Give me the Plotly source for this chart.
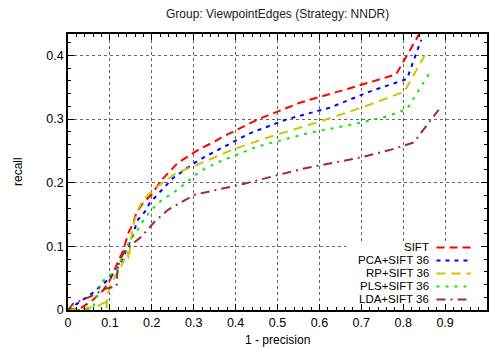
import plotly.graph_objects as go

# Recall vs (1 - precision) curves, one per descriptor
sift_x = [0, 0.033, 0.06, 0.084, 0.1, 0.12, 0.132, 0.144, 0.154, 0.163, 0.179, 0.199, 0.223, 0.262, 0.312, 0.351, 0.369, 0.452, 0.555, 0.671, 0.783, 0.85]
sift_y = [0, 0.004, 0.016, 0.031, 0.047, 0.076, 0.094, 0.121, 0.134, 0.152, 0.168, 0.181, 0.204, 0.231, 0.252, 0.265, 0.272, 0.299, 0.326, 0.348, 0.370, 0.447]

pca_x = [0, 0.029, 0.057, 0.1, 0.124, 0.148, 0.167, 0.183, 0.195, 0.25, 0.302, 0.325, 0.365, 0.432, 0.520, 0.626, 0.720, 0.809, 0.843]
pca_y = [0, 0.013, 0.026, 0.050, 0.071, 0.107, 0.142, 0.154, 0.168, 0.207, 0.231, 0.240, 0.254, 0.277, 0.299, 0.318, 0.343, 0.363, 0.4245]

rp_x = [0, 0.04, 0.07, 0.088, 0.092, 0.094, 0.11, 0.128, 0.142, 0.145, 0.150, 0.159, 0.167, 0.179, 0.207, 0.258, 0.3175, 0.392, 0.479, 0.594, 0.7045, 0.803, 0.852]
rp_y = [0, 0.002, 0.006, 0.012, 0.002, 0.025, 0.05, 0.07, 0.092, 0.079, 0.11, 0.1415, 0.157, 0.173, 0.191, 0.215, 0.2307, 0.2516, 0.2715, 0.2945, 0.3187, 0.343, 0.401]

pls_x = [0, 0.04, 0.06, 0.065, 0.081, 0.096, 0.116, 0.128, 0.148, 0.159, 0.175, 0.199, 0.219, 0.266, 0.3095, 0.329, 0.365, 0.452, 0.574, 0.7005, 0.76, 0.809, 0.8626]
pls_y = [0, 0.0, 0.003, 0.016, 0.045, 0.052, 0.063, 0.081, 0.110, 0.118, 0.136, 0.157, 0.170, 0.191, 0.215, 0.2228, 0.234, 0.2568, 0.2778, 0.2945, 0.304, 0.3156, 0.372]

lda_x = [0, 0.013, 0.053, 0.092, 0.116, 0.117, 0.122, 0.136, 0.175, 0.207, 0.238, 0.3017, 0.416, 0.5545, 0.7005, 0.7756, 0.825, 0.8846]
lda_y = [0, 0.0105, 0.021, 0.034, 0.037, 0.055, 0.075, 0.094, 0.115, 0.139, 0.157, 0.181, 0.1976, 0.221, 0.240, 0.2527, 0.263, 0.3145]

series_names = ["SIFT", "PCA+SIFT 36", "RP+SIFT 36", "PLS+SIFT 36", "LDA+SIFT 36"]
series_x = [sift_x, pca_x, rp_x, pls_x, lda_x]
series_y = [sift_y, pca_y, rp_y, pls_y, lda_y]
colors = ["#ff0000", "#0000ff", "#c8c800", "#00ee00", "#a52a2a"]
dashes = ["8px,5px", "4px,5px", "9px,6px", "3px,6px", "9px,5px,2px,5px"]

x_ticks = [0, 0.1, 0.2, 0.3, 0.4, 0.5, 0.6, 0.7, 0.8, 0.9, 1]
x_tick_text = ["0", "0.1", "0.2", "0.3", "0.4", "0.5", "0.6", "0.7", "0.8", "0.9", "1"]
y_ticks = [0, 0.1, 0.2, 0.3, 0.4]
y_tick_text = ["0", "0.1", "0.2", "0.3", "0.4"]

FONT = "Liberation Sans, Arial, Helvetica, sans-serif"

fig = go.Figure()
for name, xs, ys, c, d in zip(series_names, series_x, series_y, colors, dashes):
    fig.add_trace(go.Scatter(x=xs, y=ys, mode="lines", name=name,
                             line=dict(color=c, width=2, dash=d),
                             showlegend=False))

# key box (opaque, sits over the grid)
shapes = [dict(type="rect", xref="x", yref="y", x0=0.664, x1=1.0, y0=0.0, y1=0.106,
               fillcolor="white", line=dict(width=0), layer="between")]
annotations = []
row_y = [0.0983, 0.0778, 0.0574, 0.0370, 0.0165]
for name, c, d, ry in zip(series_names, colors, dashes, row_y):
    shapes.append(dict(type="line", xref="x", yref="y", x0=0.8795, x1=0.9615, y0=ry, y1=ry,
                       line=dict(color=c, width=2, dash=d)))
    annotations.append(dict(x=0.8635, y=ry, xref="x", yref="y", text=name, showarrow=False,
                            xanchor="right", yanchor="middle", height=12, borderpad=0,
                            font=dict(family=FONT, size=11.5, color="black")))

annotations += [
    dict(x=0.5, y=1, xref="paper", yref="paper", yshift=20, text="Group: ViewpointEdges (Strategy: NNDR)",
         showarrow=False, xanchor="center", yanchor="middle", font=dict(family=FONT, size=12, color="#222")),
    dict(x=0.5, y=0, xref="paper", yref="paper", yshift=-30, text="1 - precision",
         showarrow=False, xanchor="center", yanchor="middle", font=dict(family=FONT, size=12, color="black")),
    dict(x=0, y=0.5, xref="paper", yref="paper", xshift=-50, text="recall", textangle=-90,
         showarrow=False, xanchor="center", yanchor="middle", font=dict(family=FONT, size=12, color="black")),
]

axis_common = dict(showline=True, linecolor="black", linewidth=1.5, mirror="allticks",
                   ticks="inside", ticklen=6, tickcolor="black", tickwidth=1,
                   showgrid=True, gridcolor="#666", griddash="dot", gridwidth=1,
                   zeroline=False, tickfont=dict(family=FONT, size=12.5, color="black"),
                   minor=dict(dtick=0.02, ticks="inside", ticklen=3, tickcolor="black", showgrid=False))

fig.update_layout(
    width=490, height=349,
    margin=dict(l=68, r=1, t=34, b=39),
    paper_bgcolor="white", plot_bgcolor="white",
    xaxis=dict(range=[0, 1], tickvals=x_ticks, ticktext=x_tick_text, **axis_common),
    yaxis=dict(range=[0, 0.4335], tickvals=y_ticks, ticktext=y_tick_text, **axis_common),
    shapes=shapes, annotations=annotations, showlegend=False,
)

fig.write_html("out.html")
